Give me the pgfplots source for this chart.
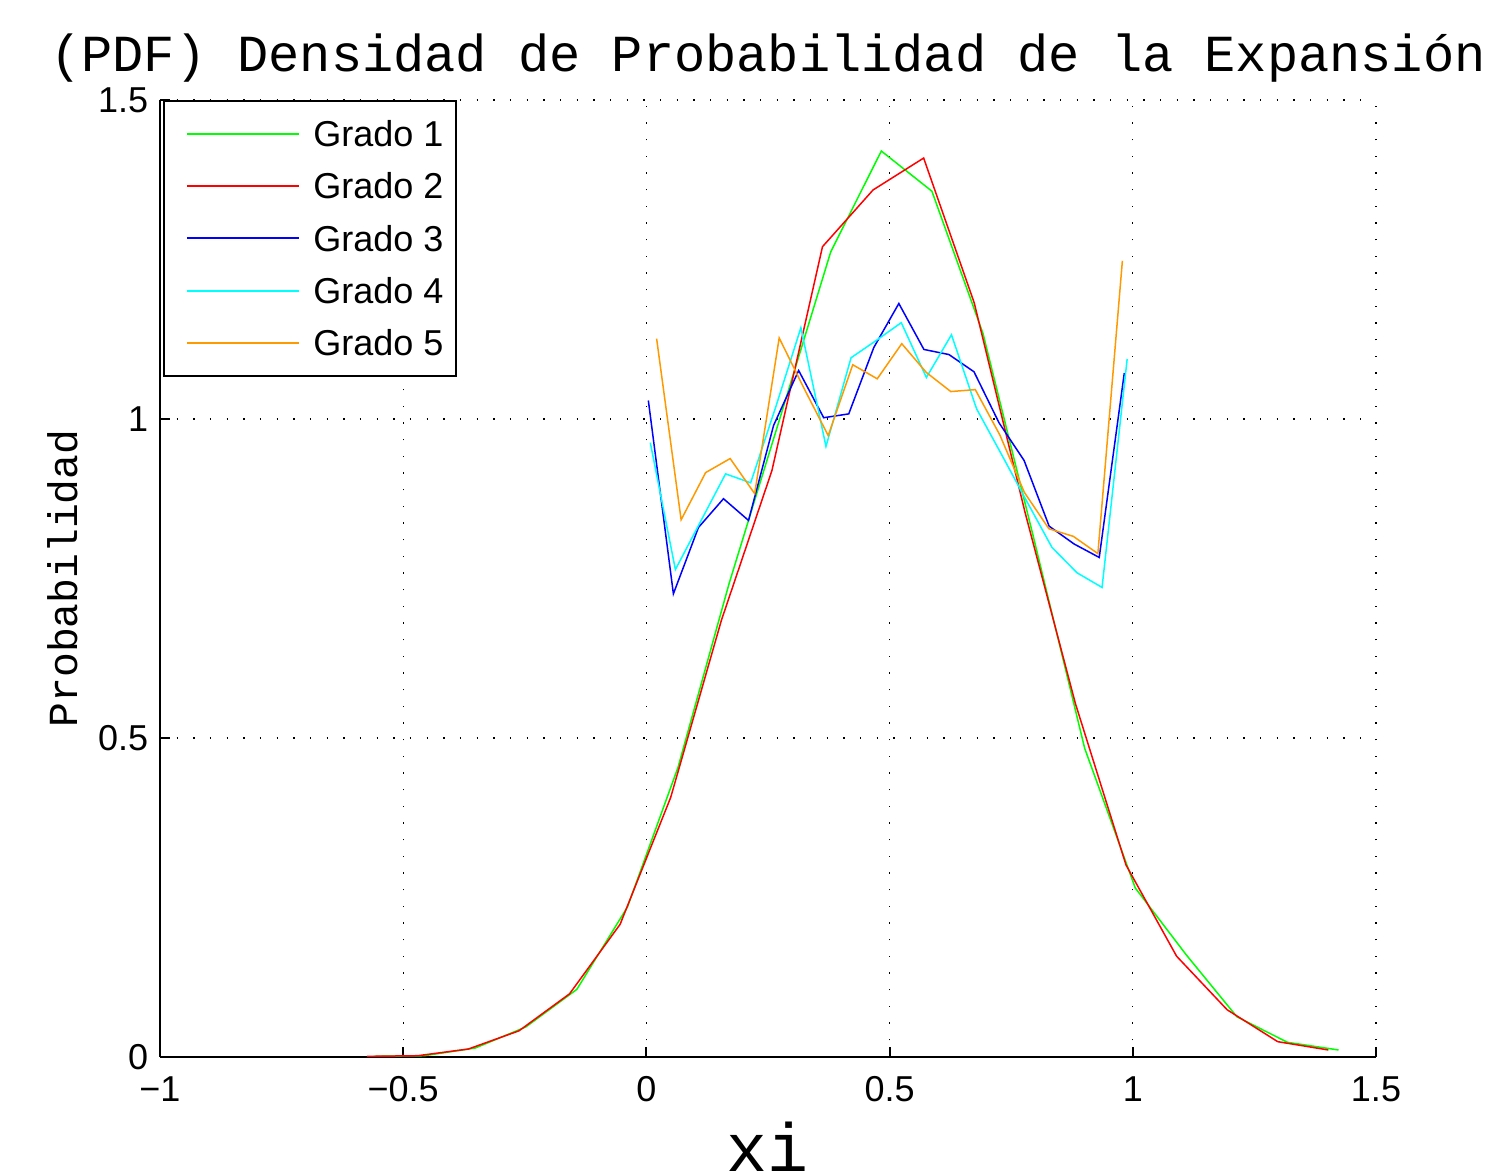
\documentclass[border=0pt]{standalone}
\usepackage{pgfplots}
\pgfplotsset{compat=1.18}
\usepackage{fontspec}
\setmainfont{Liberation Sans}
\newfontfamily\mono{Liberation Mono}
\definecolor{gOne}{RGB}{0,255,0}
\definecolor{gTwo}{RGB}{255,0,0}
\definecolor{gThree}{RGB}{0,0,255}
\definecolor{gFour}{RGB}{0,255,255}
\definecolor{gFive}{RGB}{255,153,0}
\begin{document}
\begin{tikzpicture}
\begin{axis}[
  scale only axis,
  width=364.8pt, height=287.1pt,
  xmin=-1, xmax=1.5, ymin=0, ymax=1.5,
  axis x line*=bottom, axis y line*=left,
  axis line style={line width=0.6pt, -},
  tick align=inside,
  major tick length=3pt,
  tick style={line width=0.6pt, black},
  xtick={-1,-0.5,0,0.5,1,1.5},
  xticklabels={−1,−0.5,0,0.5,1,1.5},
  ytick={0,0.5,1,1.5},
  yticklabels={0,0.5,1,1.5},
  ticklabel style={font=\fontsize{10.8}{13}\selectfont},
  xticklabel style={yshift=-2.4pt},
  grid=major,
  grid style={black, line width=0.4pt, dash pattern=on 0.4pt off 4.6pt},
  title={(PDF) Densidad de Probabilidad de la Expansión},
  title style={font=\mono\fontsize{15.6}{18}\selectfont, at={(axis description cs:0.5,1)}, anchor=base, yshift=2.6pt, inner sep=0pt},
  ylabel={Probabilidad},
  ylabel style={font=\mono\fontsize{12.4}{14}\selectfont, at={(axis description cs:0,0.5)}, anchor=base, yshift=24.6pt, inner sep=0pt},
  xlabel={xi},
  xlabel style={font=\mono\fontsize{20.5}{24}\selectfont, at={(axis description cs:0.5,0)}, anchor=base, yshift=-34.5pt, inner sep=0pt},
  legend cell align=left,
  legend image code/.code={\draw[#1, line width=0.62pt] (3.2pt,0pt) -- (36.8pt,0pt); \path (0pt,0pt);},
  legend style={at={(axis description cs:0,1)}, anchor=north west, xshift=0.9pt,
    draw=black, line width=0.6pt, fill=white,
    inner xsep=3.6pt, inner ysep=5.9pt,
    font=\fontsize{10.8}{13}\selectfont,
    nodes={inner sep=0pt, text height=7.8pt, text depth=0pt},
    row sep=7.9pt, column sep=3.9pt},
]
\addplot[color=gOne, line width=0.45pt] table {
-0.561 0.001
-0.457 0.002
-0.352 0.014
-0.248 0.047
-0.143 0.106
-0.039 0.235
0.065 0.454
0.170 0.742
0.274 1.000
0.379 1.262
0.483 1.420
0.587 1.357
0.692 1.134
0.796 0.814
0.901 0.484
1.005 0.265
1.110 0.160
1.214 0.063
1.318 0.023
1.423 0.011
};
\addlegendentry{Grado 1}
\addplot[color=gTwo, line width=0.45pt] table {
-0.574 0.001
-0.470 0.002
-0.366 0.0125
-0.262 0.041
-0.158 0.099
-0.054 0.208
0.050 0.407
0.154 0.684
0.258 0.919
0.362 1.270
0.466 1.359
0.570 1.409
0.674 1.182
0.778 0.855
0.882 0.554
0.986 0.301
1.090 0.158
1.194 0.074
1.298 0.024
1.402 0.011
};
\addlegendentry{Grado 2}
\addplot[color=gThree, line width=0.45pt] table {
0.004 1.029
0.0555 0.726
0.107 0.830
0.1585 0.875
0.210 0.841
0.2615 0.990
0.313 1.076
0.3645 1.002
0.416 1.008
0.4675 1.112
0.519 1.181
0.5705 1.109
0.622 1.101
0.6735 1.074
0.725 0.994
0.7765 0.935
0.828 0.832
0.8795 0.804
0.931 0.783
0.9825 1.072
};
\addlegendentry{Grado 3}
\addplot[color=gFour, line width=0.45pt] table {
0.008 0.963
0.0596 0.764
0.1112 0.839
0.1628 0.914
0.2144 0.900
0.266 1.019
0.3176 1.143
0.3692 0.957
0.4208 1.096
0.4724 1.123
0.524 1.151
0.5756 1.065
0.6272 1.132
0.6788 1.016
0.7304 0.944
0.782 0.871
0.8336 0.799
0.8852 0.759
0.9368 0.736
0.9884 1.094
};
\addlegendentry{Grado 4}
\addplot[color=gFive, line width=0.45pt] table {
0.021 1.126
0.0714 0.842
0.1218 0.916
0.1722 0.938
0.2226 0.883
0.273 1.127
0.3234 1.049
0.3738 0.974
0.4242 1.085
0.4746 1.063
0.525 1.118
0.5754 1.073
0.6258 1.043
0.6762 1.046
0.7266 0.975
0.777 0.885
0.8274 0.828
0.8778 0.816
0.9282 0.789
0.9786 1.248
};
\addlegendentry{Grado 5}
\coordinate (bl) at (rel axis cs:0,0);
\end{axis}
\pgfresetboundingbox
\path (bl) ++(-48pt,-35.7pt) rectangle ++(447.3pt,352.8pt);
\end{tikzpicture}
\end{document}
